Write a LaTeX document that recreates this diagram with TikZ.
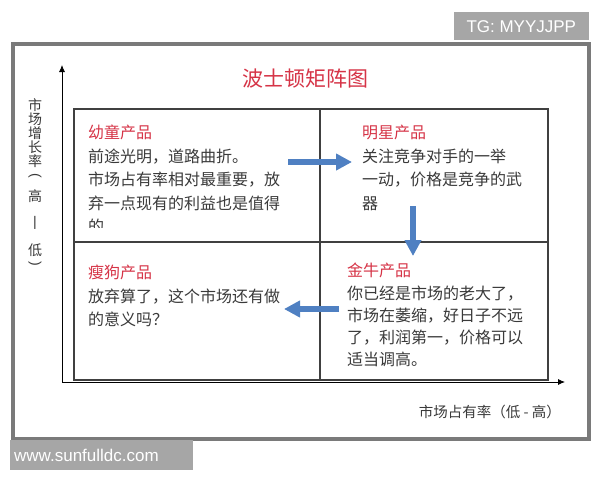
\documentclass[tikz,border=0pt]{standalone}
\usepackage{fontspec}
\setmainfont{Liberation Sans}
\newfontfamily\cjk{Noto Sans CJK SC}
\usetikzlibrary{arrows.meta}
\definecolor{framegray}{HTML}{7A7A7A}
\definecolor{markgray}{HTML}{A6A6A6}
\definecolor{titlered}{HTML}{D63447}
\definecolor{textgray}{HTML}{3A3A3A}
\definecolor{flowblue}{HTML}{4F80C2}
\tikzset{
	quad/.style={anchor=north west, align=left, inner sep=0pt, text=textgray, font=\cjk\fontsize{16}{23.5}\selectfont},
	flow/.style={draw=flowblue, line width=6pt, -{Triangle[length=16pt,width=16pt]}},
	wmark/.style={fill=markgray, text=white, inner sep=0pt, font=\fontsize{17}{17}\selectfont},
	axis/.style={line width=0.8pt, -{Latex[length=7pt,width=6pt]}},
	gridline/.style={draw=black!75, line width=1.1pt},
	ychar/.style={inner sep=0pt, text=textgray, font=\cjk\fontsize{14}{14}\selectfont}
}
\newcommand{\red}[1]{\textcolor{titlered}{#1}}

\begin{document}
\begin{tikzpicture}[x=1pt, y=-1pt]
			%%%%% START %%%%%
			\useasboundingbox (0,0) rectangle (600,480);
			\fill[white] (0,0) rectangle (600,480);
			
			% frame and stamps
			\draw[framegray, line width=4pt] (13,44) rectangle (589,439);
			\node[wmark, anchor=north east, minimum width=135pt, minimum height=28pt] (tg) at (589,12) {TG: MYYJJPP};
			\node[wmark, anchor=north west, minimum width=183pt, minimum height=30pt, text width=175pt, align=left] (site) at (10,440) {www.sunfulldc.com};
			
			\node[text=titlered, inner sep=0pt, font=\cjk\fontsize{21}{21}\selectfont] (title) at (305,79) {波士顿矩阵图};
			
			% axes
			\coordinate (origin) at (62,382);
			\coordinate (ytop) at (62,65);
			\coordinate (xend) at (565,382);
			\draw[axis] (origin) -- (ytop);
			\draw[axis] (origin) -- (xend);
			
			% matrix
			\draw[gridline] (74,109) rectangle (548,380);
			\draw[gridline] (320,109) -- (320,380);
			\draw[gridline] (74,242) -- (548,242);
			
			% quadrants
			\begin{scope}
				\clip (75,110) rectangle (319,227);
				\node[quad] (young) at (88,125) {\red{幼童产品}\\前途光明，道路曲折。\\市场占有率相对最重要，放\\弃一点现有的利益也是值得\\的};
			\end{scope}
			\node[quad] (star) at (362,125) {\red{明星产品}\\关注竞争对手的一举\\一动，价格是竞争的武\\器};
			\node[quad] (dog) at (88,265) {\red{瘦狗产品}\\放弃算了，这个市场还有做\\的意义吗？};
			\node[quad, font=\cjk\fontsize{16}{22.3}\selectfont] (cow) at (347,263) {\red{金牛产品}\\你已经是市场的老大了，\\市场在萎缩，好日子不远\\了，利润第一，价格可以\\适当调高。};
			
			% moves
			\coordinate (a1) at (288,162);
			\coordinate (a2) at (352,162);
			\coordinate (b1) at (413,206);
			\coordinate (b2) at (413,256);
			\coordinate (c1) at (339,309);
			\coordinate (c2) at (284,309);
			\draw[flow] (a1) -- (a2);
			\draw[flow] (b1) -- (b2);
			\draw[flow] (c1) -- (c2);
			
			% axis labels
			\foreach \ch/\yy in {市/105, 场/119, 增/133, 长/147, 率/161, 高/196, 低/250}
				\node[ychar] (y\yy) at (35,\yy) {\ch};
			\node[ychar, font=\fontsize{14}{14}\selectfont, rotate=-90] (yopen) at (35,176) {(};
			\node[ychar, font=\fontsize{14}{14}\selectfont] (ydash) at (35,223) {|};
			\node[ychar, font=\fontsize{14}{14}\selectfont, rotate=-90] (yclose) at (35,264) {)};
			\node[anchor=east, inner sep=0pt, text=textgray, font=\cjk\fontsize{14.5}{14.5}\selectfont] (xlabel) at (561,412) {市场占有率（低 - 高）};
			%%%%% END %%%%%
\end{tikzpicture}
\end{document}
